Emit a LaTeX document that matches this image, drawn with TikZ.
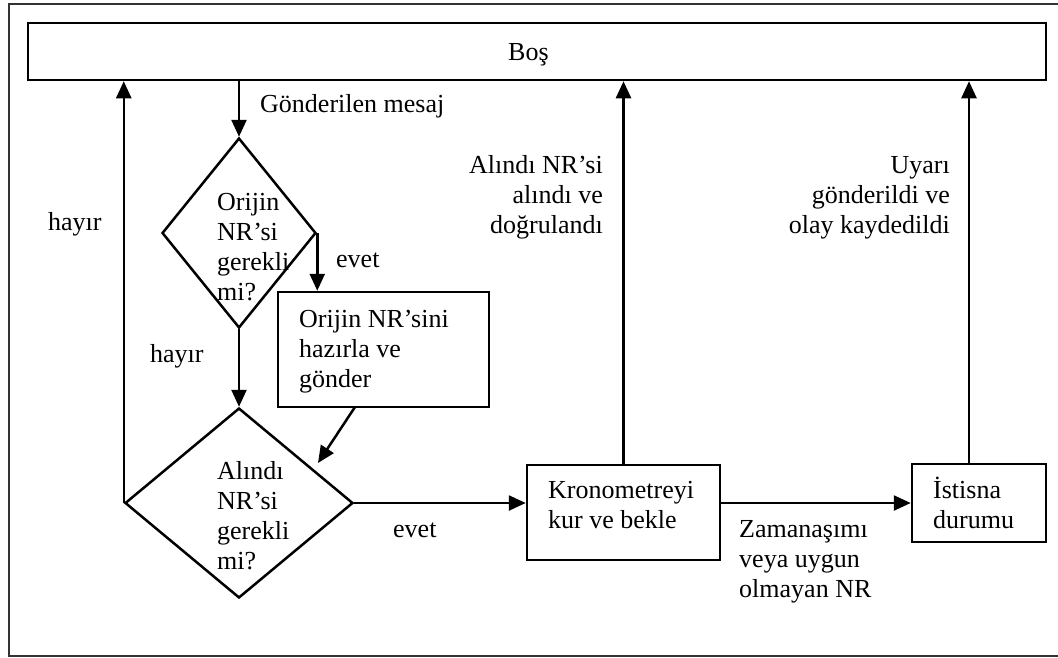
\documentclass[tikz,border=0pt]{standalone}
\usepackage{fontspec}
\setmainfont{Liberation Serif}
\usetikzlibrary{arrows.meta,shapes.geometric}
\newcommand{\fsz}{\fontsize{26}{30}\selectfont}
\begin{document}
\begin{tikzpicture}[x=1pt,y=-1pt,
  ln/.style={line width=2.5pt},
  arr/.style={line width=2.5pt,-{Triangle[length=17pt,width=15pt]}},
  boxs/.style={draw,line width=2.5pt,inner sep=0pt},
  dia/.style={draw,diamond,line width=2.5pt,inner sep=0pt},
  lbl/.style={inner sep=0pt,anchor=base west,align=left,font=\fsz},
  lblr/.style={inner sep=0pt,anchor=base east,align=right,font=\fsz}]
\useasboundingbox (0,0) rectangle (1058,657);
\draw[line width=1.5pt,black!80] (9,4) rectangle (1075,656);
% boxes
\node[boxs,minimum width=1018pt,minimum height=57pt] (bos) at (537,51.5) {};
\node[dia,minimum width=154pt,minimum height=190pt] (d1) at (239,233) {};
\node[dia,minimum width=228pt,minimum height=190pt] (d2) at (239,503) {};
\node[boxs,minimum width=211pt,minimum height=115pt] (b2) at (383.5,349.5) {};
\node[boxs,minimum width=193pt,minimum height=95pt] (kron) at (623.5,512.5) {};
\node[boxs,minimum width=134pt,minimum height=78pt] (ist) at (979,503) {};
% texts (base = baseline of last line)
\node[lbl] (tbos) at (508,60) {Boş};
\node[lbl] (td1) at (217,300) {Orijin\\NR’si\\gerekli\\mi?};
\node[lbl] (td2) at (217,569) {Alındı\\NR’si\\gerekli\\mi?};
\node[lbl] (tb2) at (299,387) {Orijin NR’sini\\hazırla ve\\gönder};
\node[lbl] (tkron) at (548,528) {Kronometreyi\\kur ve bekle};
\node[lbl] (tist) at (933,528) {İstisna\\durumu};
\node[lbl] (lgm) at (260,112) {Gönderilen mesaj};
\node[lbl] (lhl) at (48,230) {hayır};
\node[lbl] (lhm) at (150,362) {hayır};
\node[lbl] (le1) at (336,267) {evet};
\node[lbl] (le2) at (393,537) {evet};
\node[lbl] (lzm) at (739,597) {Zamanaşımı\\veya uygun\\olmayan NR};
\node[lblr] (lal) at (603,233) {Alındı NR’si\\alındı ve\\doğrulandı};
\node[lblr] (luy) at (950,233) {Uyarı\\gönderildi ve\\olay kaydedildi};
% connectors
\coordinate (dtip) at (318,463);
\coordinate (b2s) at (355,407);
\coordinate (istn) at (969,464);
\draw[arr] (bos.south -| d1.north) -- (d1.north);
\draw[arr] (d1.east) -- (d1.east |- b2.north);
\draw[arr] (d1.south) -- (d2.north);
\draw[arr] (b2s) -- (dtip);
\draw[arr] (d2.west) -- (d2.west |- bos.south);
\draw[arr] (d2.east) -- (d2.east -| kron.west);
\draw[arr] (kron.east |- d2.east) -- (ist.west |- d2.east);
\draw[arr] (kron.north) -- (kron.north |- bos.south);
\draw[arr] (istn) -- (istn |- bos.south);
\end{tikzpicture}
\end{document}
